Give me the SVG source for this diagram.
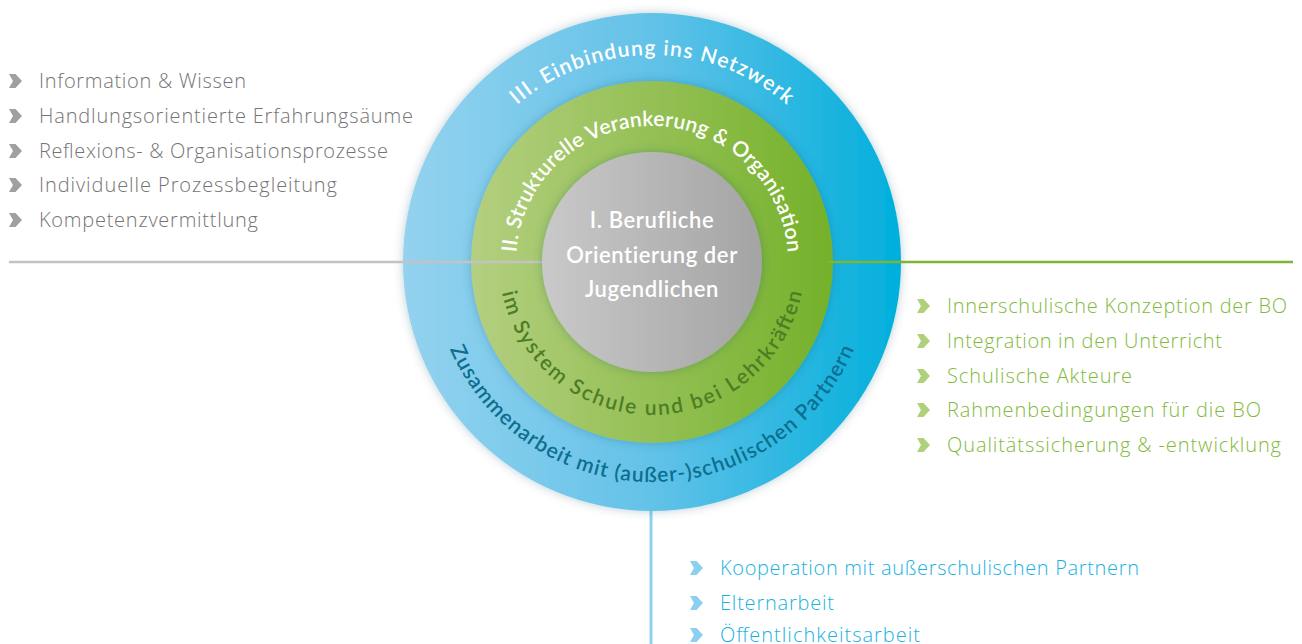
<svg xmlns="http://www.w3.org/2000/svg" width="1302" height="644" viewBox="0 0 1302 644">
<style>
.ring{font-family:Lato,"Open Sans","Liberation Sans",sans-serif;font-size:21px;font-weight:600}
.white{fill:#ffffff}
.dgreen{fill:#4d7d25}
.dblue{fill:#0c6f8f}
.center{font-family:Lato,"Open Sans","Liberation Sans",sans-serif;font-size:22px;font-weight:600;fill:#ffffff;text-anchor:middle;letter-spacing:0.6px}
.item{font-family:"Open Sans",Lato,"Liberation Sans",sans-serif;font-size:20px;font-weight:300}
.tgray{fill:#747474}
.tgreen{fill:#82b93c}
.tblue{fill:#19b2e0}
.cgray{fill:#a0a0a0}
.cgreen{fill:#b0d17b}
.cblue{fill:#8ccfee}
</style>
<defs>
<linearGradient id="gBlue" x1="0" y1="0" x2="1" y2="0">
<stop offset="0" stop-color="#94d2ef"/><stop offset="0.5" stop-color="#63c2e8"/><stop offset="1" stop-color="#00afdc"/>
</linearGradient>
<linearGradient id="gGreen" x1="0" y1="0" x2="1" y2="0">
<stop offset="0" stop-color="#b4cf80"/><stop offset="1" stop-color="#74b12a"/>
</linearGradient>
<linearGradient id="gGray" x1="0" y1="0" x2="1" y2="0">
<stop offset="0" stop-color="#c9c9c9"/><stop offset="1" stop-color="#a4a4a4"/>
</linearGradient>
<filter id="shadow" x="-10%" y="-10%" width="120%" height="120%">
<feDropShadow dx="0" dy="0" stdDeviation="5" flood-color="#1d4d63" flood-opacity="0.28"/>
</filter>
<path id="chev" d="M0,-14 L6.5,-14 L13,-7 L6.5,0 L0,0 L4,-7 Z"/>
<path id="pOuterTop" d="M457.5,332.8 A207,207 0 1 1 846.5,332.8"/>
<path id="pGreenTop" d="M524.2,308.5 A136,136 0 1 1 779.8,308.5"/>
<path id="pGreenBot" d="M508.2,209.7 A153,153 0 1 0 795.8,209.7"/>
<path id="pOuterBot" d="M445.3,186.8 A220,220 0 1 0 858.7,186.8"/>
</defs>

<g id="connectors">
<line x1="651" y1="505" x2="651" y2="644" stroke="#8fd0ef" stroke-width="3"/>
</g>

<g id="ring-outer">
<circle cx="652" cy="262" r="249" fill="url(#gBlue)" filter="url(#shadow)"/>
</g>
<g id="ring-green">
<circle cx="652" cy="262" r="181" fill="url(#gGreen)" filter="url(#shadow)"/>
</g>

<g id="connectors-lines">
<line x1="9" y1="262" x2="548" y2="262" stroke="#c3c3c3" stroke-width="2.6"/>
<line x1="828" y1="262" x2="1293" y2="262" stroke="#7db534" stroke-width="2.6"/>
</g>

<g id="core">
<circle cx="652" cy="262" r="110" fill="url(#gGray)" filter="url(#shadow)"/>
<text class="center" x="652" y="228">I. Berufliche</text>
<text class="center" x="652" y="263">Orientierung der</text>
<text class="center" x="652" y="297">Jugendlichen</text>
</g>

<g id="ring-labels">
<text class="ring white"><textPath href="#pOuterTop" startOffset="50%" text-anchor="middle" textLength="294">III. Einbindung ins Netzwerk</textPath></text>
<text class="ring white"><textPath href="#pGreenTop" startOffset="50%" text-anchor="middle" textLength="408">II. Strukturelle Verankerung &amp; Organisation</textPath></text>
<text class="ring dgreen"><textPath href="#pGreenBot" startOffset="50%" text-anchor="middle" textLength="419">im System Schule und bei Lehrkräften</textPath></text>
<text class="ring dblue"><textPath href="#pOuterBot" startOffset="50%" text-anchor="middle" textLength="512">Zusammenarbeit mit (außer-)schulischen Partnern</textPath></text>
</g>

<g id="list-left">
<use href="#chev" class="cgray" x="9" y="88"/>
<text class="item tgray" x="39" y="88" textLength="207">Information &amp; Wissen</text>
<use href="#chev" class="cgray" x="9" y="123"/>
<text class="item tgray" x="39" y="123" textLength="374">Handlungsorientierte Erfahrungsäume</text>
<use href="#chev" class="cgray" x="9" y="158"/>
<text class="item tgray" x="39" y="158" textLength="349">Reflexions- &amp; Organisationsprozesse</text>
<use href="#chev" class="cgray" x="9" y="192"/>
<text class="item tgray" x="39" y="192" textLength="298">Individuelle Prozessbegleitung</text>
<use href="#chev" class="cgray" x="9" y="227"/>
<text class="item tgray" x="39" y="227" textLength="219">Kompetenzvermittlung</text>
</g>

<g id="list-right">
<use href="#chev" class="cgreen" x="917" y="313"/>
<text class="item tgreen" x="947" y="313" textLength="340">Innerschulische Konzeption der BO</text>
<use href="#chev" class="cgreen" x="917" y="348"/>
<text class="item tgreen" x="947" y="348" textLength="275">Integration in den Unterricht</text>
<use href="#chev" class="cgreen" x="917" y="383"/>
<text class="item tgreen" x="947" y="383" textLength="185">Schulische Akteure</text>
<use href="#chev" class="cgreen" x="917" y="417"/>
<text class="item tgreen" x="947" y="417" textLength="314">Rahmenbedingungen für die BO</text>
<use href="#chev" class="cgreen" x="917" y="452"/>
<text class="item tgreen" x="947" y="452" textLength="334">Qualitätssicherung &amp; -entwicklung</text>
</g>

<g id="list-bottom">
<use href="#chev" class="cblue" x="690" y="575"/>
<text class="item tblue" x="720" y="575" textLength="419">Kooperation mit außerschulischen Partnern</text>
<use href="#chev" class="cblue" x="690" y="610"/>
<text class="item tblue" x="720" y="610" textLength="114">Elternarbeit</text>
<use href="#chev" class="cblue" x="690" y="642"/>
<text class="item tblue" x="720" y="642" textLength="200">Öffentlichkeitsarbeit</text>
</g>
</svg>
